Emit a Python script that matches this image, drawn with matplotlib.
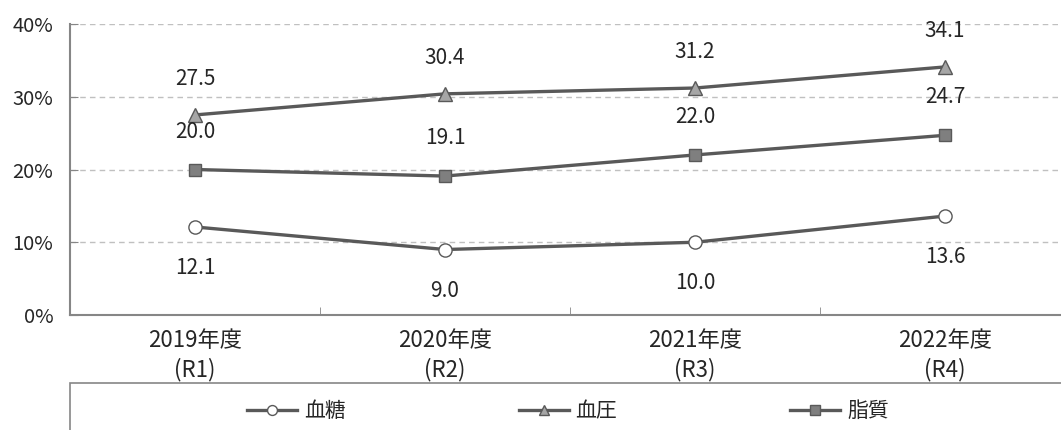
import matplotlib
matplotlib.use("Agg")
from matplotlib import pyplot as plt
from matplotlib.patches import Rectangle
from matplotlib.ticker import FixedLocator

plt.rcParams['font.family'] = ['Noto Sans CJK JP', 'DejaVu Sans']

# Data
categories = ["2019年度\n(R1)", "2020年度\n(R2)", "2021年度\n(R3)", "2022年度\n(R4)"]
seriesNames = ["血糖", "血圧", "脂質"]
bloodSugar = [12.1, 9.0, 10.0, 13.6]
bloodPressure = [27.5, 30.4, 31.2, 34.1]
lipids = [20.0, 19.1, 22.0, 24.7]
yTicks = [0, 10, 20, 30, 40]

lineColor = "#595959"
spineColor = "#868686"
textColor = "#262626"

figure = plt.figure(figsize=(10.61, 4.30), dpi=100)
axis = figure.add_axes([70 / 1061, 115 / 430, 1000 / 1061, 291 / 430])

xs = list(range(len(categories)))
seriesStyles = [
    (bloodSugar, "o", "white", 9.5, -41),
    (bloodPressure, "^", "#a6a6a6", 10, 36),
    (lipids, "s", "#7f7f7f", 9, 38),
]
for (values, marker, face, size, offset), name in zip(seriesStyles, seriesNames):
    axis.plot(xs, values, color=lineColor, linewidth=2.4, marker=marker, markersize=size,
              markerfacecolor=face, markeredgecolor=lineColor, markeredgewidth=1.0,
              label=name, zorder=3)
    for x, v in zip(xs, values):
        axis.annotate(f"{v:.1f}", (x, v), xytext=(0, offset), textcoords="offset pixels",
                      ha="center", va="center", fontsize=15, color=textColor)

axis.set_xlim(-0.5, len(categories) - 0.5)
axis.set_ylim(0, 40)
axis.set_yticks(yTicks)
axis.set_yticklabels([f"{t}%" for t in yTicks])
axis.set_xticks(xs)
axis.set_xticklabels(categories, linespacing=1.3)
axis.xaxis.set_minor_locator(FixedLocator([0.5, 1.5, 2.5]))
axis.tick_params(axis="x", which="major", length=0, pad=10, labelsize=16, labelcolor=textColor)
axis.tick_params(axis="x", which="minor", direction="in", length=6, color=spineColor)
axis.tick_params(axis="y", direction="in", length=6, color=spineColor, pad=12,
                 labelsize=14.5, labelcolor=textColor)

axis.grid(axis="y", linestyle=(0, (4, 3)), color="#c0c0c0", linewidth=1)
axis.set_axisbelow(True)
for side in ["top", "right"]:
    axis.spines[side].set_visible(False)
for side in ["left", "bottom"]:
    axis.spines[side].set_color(spineColor)
    axis.spines[side].set_linewidth(1.5)

# Legend box below the plot
figure.patches.append(Rectangle((70 / 1061, -0.2), 1.0, 47 / 430 + 0.2, transform=figure.transFigure,
                                fill=False, edgecolor=spineColor, linewidth=1.2))
figure.legend(loc="center", bbox_to_anchor=(568 / 1061, 19 / 430), ncol=3, frameon=False,
              fontsize=15, handlelength=2.4, handletextpad=0.33, columnspacing=8.3,
              markerscale=0.75, labelcolor=textColor)

figure.savefig("out.png", dpi=100)
